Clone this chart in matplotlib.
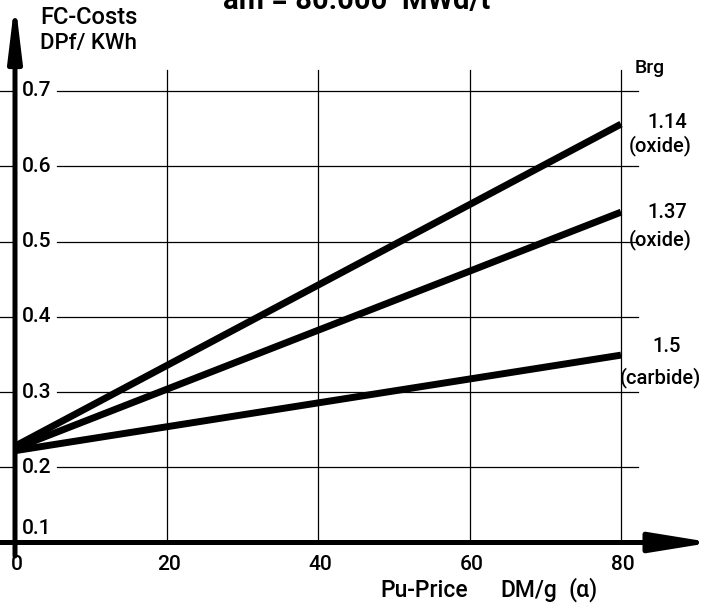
import matplotlib
matplotlib.use("Agg")
import matplotlib.pyplot as plt

# Pu price (DM/g) and fuel cycle costs (DPf/KWh)
pu_price = [0, 80]
cost_114_oxide = [0.228, 0.656]
cost_137_oxide = [0.225, 0.539]
cost_15_carbide = [0.222, 0.349]

x_ticks = [0, 20, 40, 60, 80]
y_ticks = [0.2, 0.3, 0.4, 0.5, 0.6, 0.7]
curve_labels = [("1.14", "(oxide)"), ("1.37", "(oxide)"), ("1.5", "(carbide)")]

W, H = 728, 607

# pixel -> data mapping (x=0 at px 15, x=80 at px 621; y=0.7 at px 91, y=0.3 at px 392)
X0, XS = 15.0, (621 - 15) / 80.0
Y0, YS = 91.0, (392 - 91) / 0.4


def px(x):
    return (x - X0) / XS


def py(y):
    return 0.7 - (y - Y0) / YS


fig = plt.figure(figsize=(W / 100, H / 100), dpi=100)
ax = fig.add_axes([0, 0, 1, 1])
ax.set_xlim(px(0), px(W))
ax.set_ylim(py(H), py(0))
ax.axis("off")

font = ["Roboto", "DejaVu Sans"]
wt = "medium"

# grid: short stub left of the y axis, then the line after the label
for yv in y_ticks:
    ax.plot([px(0), 0], [yv, yv], color="black", lw=0.9, zorder=1)
    ax.plot([px(57), px(638)], [yv, yv], color="black", lw=0.9, zorder=1)
for xv in x_ticks[1:]:
    ax.plot([xv, xv], [0.1, py(70)], color="black", lw=0.9, zorder=1)

# axes with arrows
ax.annotate("", xy=(px(712), 0.1), xytext=(px(0), 0.1),
            arrowprops=dict(arrowstyle="-|>,head_length=3.7,head_width=0.6",
                            lw=3.6, color="black", shrinkA=0, shrinkB=0),
            zorder=5)
ax.annotate("", xy=(0, py(0)), xytext=(0, py(556)),
            arrowprops=dict(arrowstyle="-|>,head_length=3.3,head_width=0.4",
                            lw=3.6, color="black", shrinkA=0, shrinkB=0),
            zorder=5)

# curves
for vals in [cost_114_oxide, cost_137_oxide, cost_15_carbide]:
    ax.plot(pu_price, vals, color="black", lw=5, solid_capstyle="butt", zorder=4)

# y tick labels
for yv in y_ticks:
    ax.text(px(22), yv, f"{yv:.1f}", fontsize=15, family=font, weight=wt,
            ha="left", va="center", zorder=3)
ax.text(px(22), py(528), "0.1", fontsize=15, family=font, weight=wt,
        ha="left", va="center", zorder=3)

# x tick labels
for xv in x_ticks:
    ax.text(xv + 0.3, py(564), str(xv), fontsize=15, family=font, weight=wt,
            ha="center", va="center")

# axis titles
ax.text(px(40), py(18), "FC-Costs", fontsize=17, family=font, weight=wt,
        ha="left", va="center")
ax.text(px(40), py(44), "DPf/ KWh", fontsize=16, family=font, weight=wt,
        ha="left", va="center")
ax.text(px(380), py(597), "Pu-Price", fontsize=16.5, family=font, weight=wt,
        ha="left", va="baseline")
ax.text(px(500), py(597), "DM/g", fontsize=16.5, family=font, weight=wt,
        ha="left", va="baseline")
ax.text(px(568), py(597), "(α)", fontsize=16.5, family=font, weight=wt,
        ha="left", va="baseline")

# curve labels on the right
ax.text(px(650), py(68), "Brg", fontsize=14, family=font, weight=wt, ha="center", va="center")
label_pos = [(122, 146), (212, 240), (347, 378)]
for (top, bottom), (ya, yb) in zip(curve_labels, label_pos):
    ax.text(px(667), py(ya), top, fontsize=14.5, family=font, weight=wt, ha="center", va="center")
    ax.text(px(660), py(yb), bottom, fontsize=14.5, family=font, weight=wt, ha="center", va="center")

# title, clipped by the top edge as in the scan
fig.text(223 / W, 1 - 9 / H, "am = 80.000  MWd/t", fontsize=21, family=font,
         fontweight="bold", ha="left", va="baseline")

fig.savefig("out.png", dpi=100, facecolor="white")
